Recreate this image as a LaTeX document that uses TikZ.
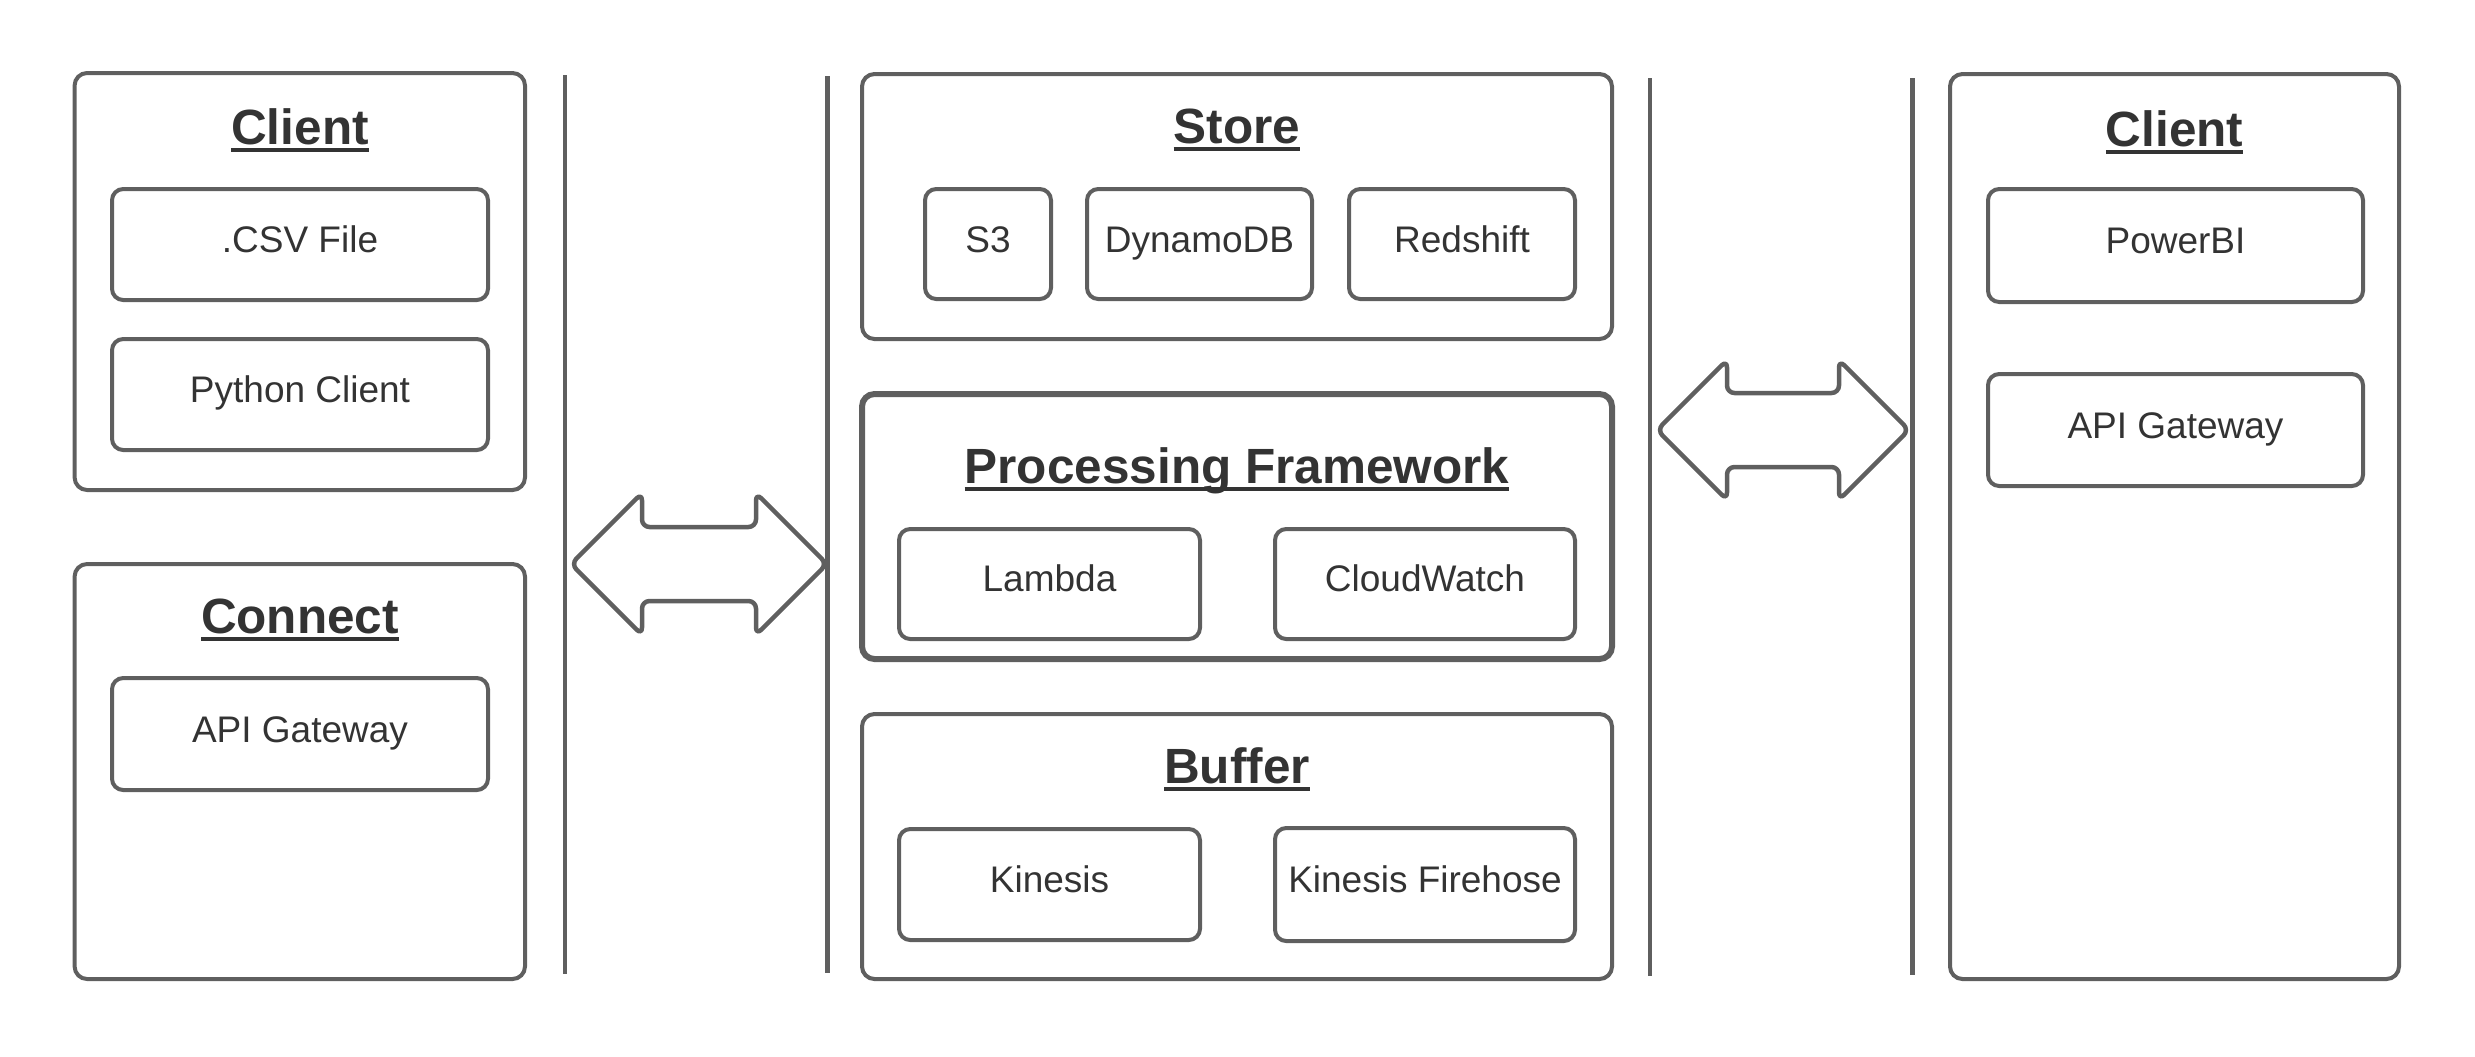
\documentclass[tikz,border=0pt]{standalone}
\usepackage{fontspec}
\setmainfont{Liberation Sans}
\usetikzlibrary{fit}
\definecolor{edge}{HTML}{5F5F5F}
\definecolor{ink}{HTML}{333333}
\newcommand\ulttl[1]{\setbox0\hbox{#1}\rlap{\rule[-3.35pt]{\wd0}{1.9pt}}\box0}
\begin{document}
\begin{tikzpicture}[x=0.4pt,y=-0.4pt,
  panel/.style={draw=edge, line width=1.6pt, rounded corners=5pt, inner sep=0pt},
  heavypanel/.style={panel, line width=2.4pt},
  item/.style={draw=edge, line width=1.6pt, rounded corners=4.5pt, inner sep=0pt},
  itemtext/.style={text=ink, font=\fontsize{14.8}{17}\selectfont, anchor=base, inner sep=0pt},
  titletext/.style={text=ink, font=\fontsize{19.8}{23}\selectfont\bfseries, anchor=base, inner sep=0pt},
  divider/.style={draw=edge, line width=1.8pt},
  dblarrow/.style={draw=edge, line width=1.8pt, rounded corners=3pt, line join=round}
]
\useasboundingbox (0,0) rectangle (2475,1056);

% outer panels
\node[panel, fit={(74.6,73) (525,490)}] (lclient) {};
\node[panel, fit={(74.6,564) (525,979)}] (connect) {};
\node[panel, fit={(862,74) (1612,339)}] (store) {};
\node[heavypanel, fit={(862,394) (1612,659)}] (proc) {};
\node[panel, fit={(862,714) (1612,979)}] (buffer) {};
\node[panel, fit={(1950,74) (2399,979)}] (rclient) {};

% titles
\node[titletext] (lclient-t) at (300,144) {\ulttl{Client}};
\node[titletext] (connect-t) at (300,633) {\ulttl{Connect}};
\node[titletext] (store-t) at (1237,143) {\ulttl{Store}};
\node[titletext] (proc-t) at (1237,483) {\ulttl{Processing Framework}};
\node[titletext] (buffer-t) at (1237,783) {\ulttl{Buffer}};
\node[titletext] (rclient-t) at (2174.5,146) {\ulttl{Client}};

% inner items
\node[item, fit={(112,189) (488,300)}] (csv) {};
\node[item, fit={(112,339) (488,450)}] (python) {};
\node[item, fit={(112,678) (488,790)}] (apil) {};
\node[item, fit={(925,189) (1051,299)}] (s3) {};
\node[item, fit={(1087,189) (1312,299)}] (dynamo) {};
\node[item, fit={(1349,189) (1575,299)}] (redshift) {};
\node[item, fit={(899,529) (1200,639)}] (lambda) {};
\node[item, fit={(1275,529) (1575,639)}] (cloudwatch) {};
\node[item, fit={(899,829) (1200,940)}] (kinesis) {};
\node[item, fit={(1275,828) (1575,941)}] (firehose) {};
\node[item, fit={(1988,189) (2363,302)}] (powerbi) {};
\node[item, fit={(1988,374) (2363,486)}] (apir) {};

\node[itemtext] (csv-t) at ([yshift=-3.2pt]csv.center) {.CSV File};
\node[itemtext] (python-t) at ([yshift=-3.2pt]python.center) {Python Client};
\node[itemtext] (apil-t) at ([yshift=-3.4pt]apil.center) {API Gateway};
\node[itemtext] (s3-t) at ([yshift=-3.2pt]s3.center) {S3};
\node[itemtext] (dynamo-t) at ([yshift=-3.2pt]dynamo.center) {DynamoDB};
\node[itemtext] (redshift-t) at ([yshift=-3.2pt]redshift.center) {Redshift};
\node[itemtext] (lambda-t) at ([yshift=-3pt]lambda.center) {Lambda};
\node[itemtext] (cloudwatch-t) at ([yshift=-3pt]cloudwatch.center) {CloudWatch};
\node[itemtext] (kinesis-t) at ([yshift=-3pt]kinesis.center) {Kinesis};
\node[itemtext] (firehose-t) at ([yshift=-3pt]firehose.center) {Kinesis Firehose};
\node[itemtext] (powerbi-t) at ([yshift=-3pt]powerbi.center) {PowerBI};
\node[itemtext] (apir-t) at ([yshift=-3.4pt]apir.center) {API Gateway};

% double arrows
\draw[dblarrow] (571,564) -- (642,493) -- (642,527) -- (756,527) -- (756,493) -- (827,564) -- (756,635) -- (756,601) -- (642,601) -- (642,635) -- cycle;
\draw[dblarrow] (1657,430) -- (1727,360) -- (1727,393) -- (1839,393) -- (1839,360) -- (1909,430) -- (1839,500) -- (1839,467) -- (1727,467) -- (1727,500) -- cycle;

% dividers
\coordinate (s1a) at (565,75);    \coordinate (s1b) at (565,974);
\coordinate (s2a) at (827.6,76);  \coordinate (s2b) at (827.6,973);
\coordinate (s3a) at (1650,78);   \coordinate (s3b) at (1650,976);
\coordinate (s4a) at (1912.5,78); \coordinate (s4b) at (1912.5,975);
\draw[divider] (s1a) -- (s1b);
\draw[divider] (s2a) -- (s2b);
\draw[divider] (s3a) -- (s3b);
\draw[divider] (s4a) -- (s4b);
\end{tikzpicture}
\end{document}
